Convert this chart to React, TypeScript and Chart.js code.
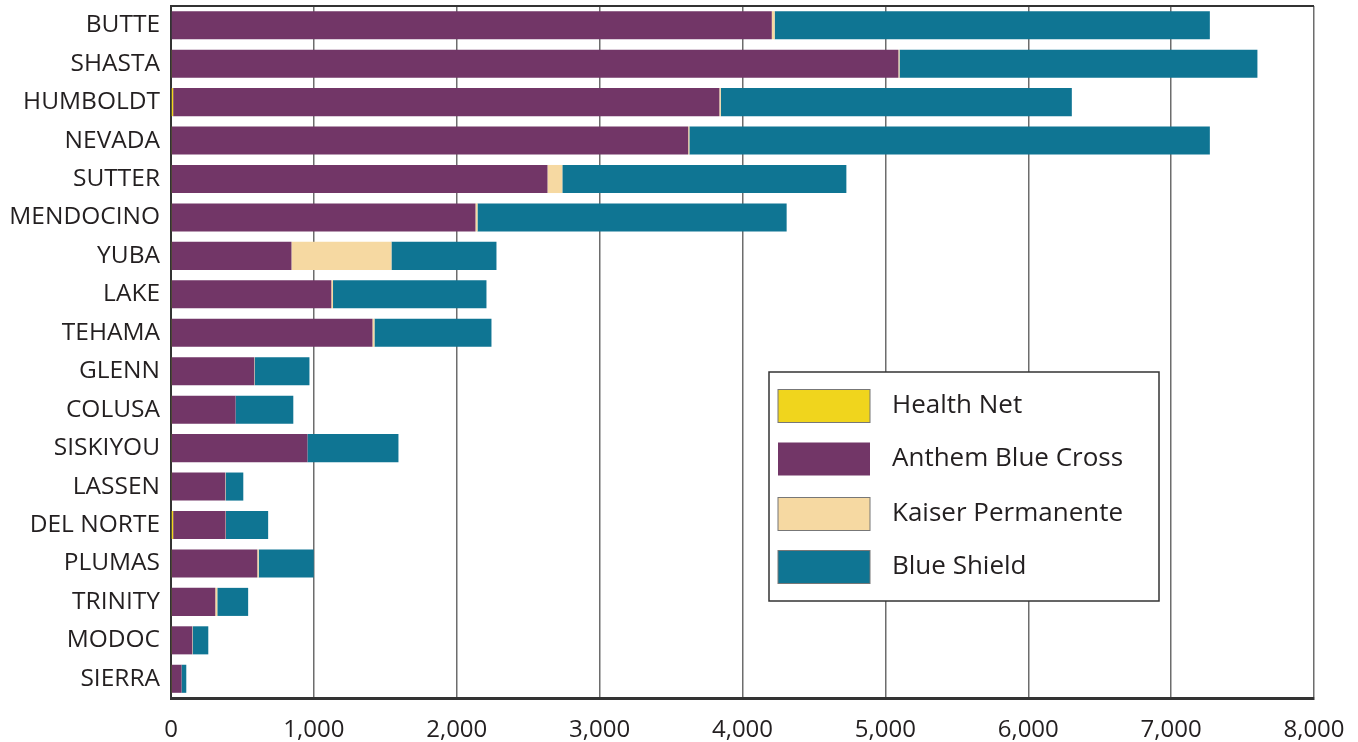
import React, { useEffect, useRef } from "react";
import { Chart, registerables } from "chart.js";

Chart.register(...registerables);

const categories = ["BUTTE", "SHASTA", "HUMBOLDT", "NEVADA", "SUTTER", "MENDOCINO", "YUBA", "LAKE", "TEHAMA", "GLENN", "COLUSA", "SISKIYOU", "LASSEN", "DEL NORTE", "PLUMAS", "TRINITY", "MODOC", "SIERRA"];
const healthNet = [0, 6, 15, 6, 6, 6, 6, 6, 6, 6, 6, 6, 6, 15, 6, 6, 6, 6];
const anthem = [4205, 5085, 3823, 3614, 2629, 2125, 837, 1116, 1404, 577, 446, 949, 374, 367, 598, 304, 143, 68];
const kaiser = [20, 8, 10, 8, 104, 14, 700, 12, 14, 3, 0, 0, 3, 3, 10, 14, 3, 0];
const blueShield = [3046, 2505, 2457, 3643, 1988, 2164, 735, 1074, 819, 383, 404, 637, 123, 295, 385, 216, 109, 33];

const seriesNames = ["Health Net", "Anthem Blue Cross", "Kaiser Permanente", "Blue Shield"];
const seriesColors = ["#f0d51d", "#723667", "#f6d9a2", "#0f7593"];
const FONT = "'Open Sans', sans-serif";

export default function App() {
  const ref = useRef<HTMLCanvasElement>(null);
  useEffect(() => {
    document.body.style.margin = "0";
    const canvas = ref.current!;
    const legendPlugin = {
      id: "customLegend",
      afterDraw(chart: any) {
        const ctx = chart.ctx;
        const a = chart.chartArea;
        ctx.save();
        ctx.strokeStyle = "#333";
        ctx.lineWidth = 2;
        ctx.beginPath();
        ctx.moveTo(a.left, a.top);
        ctx.lineTo(a.right, a.top);
        ctx.stroke();
        const lx = 769, ly = 372, lw = 390, lh = 229;
        ctx.fillStyle = "#fff";
        ctx.fillRect(lx, ly, lw, lh);
        ctx.strokeStyle = "#333";
        ctx.lineWidth = 1.5;
        ctx.strokeRect(lx, ly, lw, lh);
        const centers = [406, 459, 514, 567];
        ctx.font = `26px ${FONT}`;
        ctx.textBaseline = "middle";
        ctx.textAlign = "left";
        seriesNames.forEach((name, i) => {
          const cy = centers[i];
          ctx.fillStyle = seriesColors[i];
          ctx.fillRect(778, cy - 16.5, 92, 33);
          if (i !== 1) {
            ctx.strokeStyle = "#777";
            ctx.lineWidth = 1;
            ctx.strokeRect(778, cy - 16.5, 92, 33);
          }
          ctx.fillStyle = "#231f20";
          ctx.fillText(name, 892, cy);
        });
        ctx.restore();
      },
    };
    const datasets = [healthNet, anthem, kaiser, blueShield].map((d, i) => ({
      label: seriesNames[i],
      data: d,
      backgroundColor: seriesColors[i],
      borderWidth: 0,
      categoryPercentage: 1,
      barPercentage: 0.73,
    }));
    const chart = new Chart(canvas, {
      type: "bar",
      data: { labels: categories, datasets },
      plugins: [legendPlugin],
      options: {
        indexAxis: "y",
        animation: false,
        responsive: false,
        devicePixelRatio: 1,
        layout: { padding: { top: 6, right: 44, left: 0, bottom: 0 } },
        plugins: { legend: { display: false }, tooltip: { enabled: false } },
        scales: {
          x: {
            stacked: true,
            min: 0,
            max: 8000,
            ticks: {
              stepSize: 1000,
              color: "#231f20",
              font: { family: FONT, size: 24 },
              padding: 18,
              maxRotation: 0,
              callback: (v: any) => Number(v).toLocaleString("en-US"),
            },
            grid: { color: "#6d6d6d", lineWidth: 1.5, drawTicks: false },
            border: { color: "#333", width: 3 },
            afterFit: (s: any) => { s.height = 44; s.paddingLeft = 0; s.paddingRight = 0; },
          },
          y: {
            stacked: true,
            ticks: {
              color: "#231f20",
              font: { family: FONT, size: 24.5 },
              padding: 11,
              autoSkip: false,
            },
            grid: { display: false, drawTicks: false },
            border: { color: "#333", width: 2 },
            afterFit: (s: any) => { s.width = 171; s.paddingTop = 0; s.paddingBottom = 0; },
          },
        },
      },
    });
    return () => chart.destroy();
  }, []);
  return (
    <div style={{ width: 1358, height: 742 }}>
      <canvas ref={ref} width={1358} height={742} style={{ display: "block", width: 1358, height: 742 }} />
    </div>
  );
}
